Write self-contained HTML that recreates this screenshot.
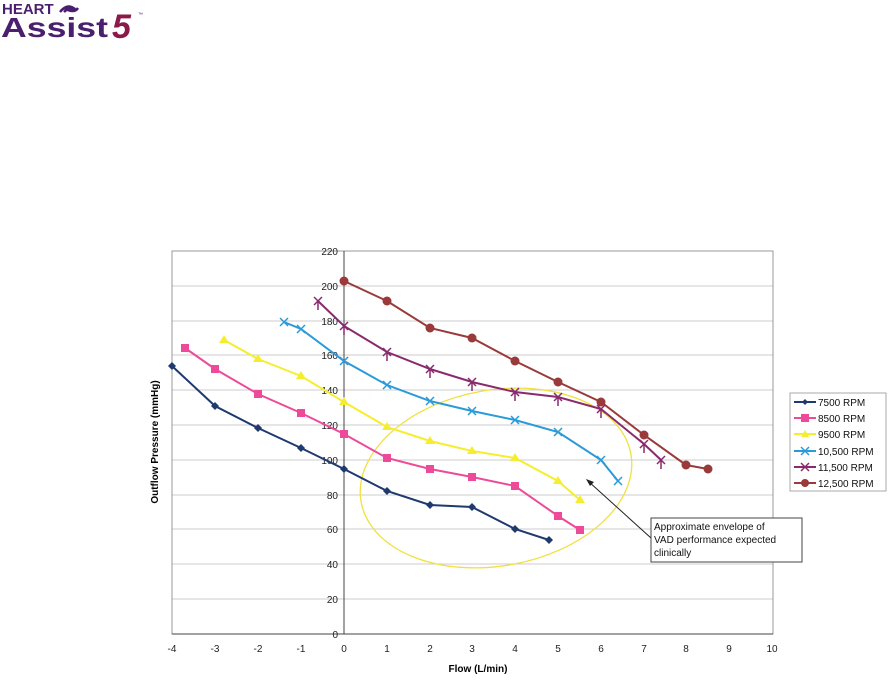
<!DOCTYPE html>
<html><head><style>body{margin:0;background:#fff}svg{font-family:"Liberation Sans",sans-serif}</style></head><body>
<svg width="889" height="686" viewBox="0 0 889 686" xmlns="http://www.w3.org/2000/svg">
<text x="2" y="14" font-size="15" font-weight="bold" fill="#4a1f6e">HEART</text>
<path d="M60 12 q8 -10 16 -2 q-6 -4 -12 2 M64 8 q10 6 14 0" stroke="#4a1f6e" stroke-width="2.5" fill="none"/>
<text x="1" y="37" font-size="28" font-weight="bold" fill="#4a1f6e" textLength="107" lengthAdjust="spacingAndGlyphs">Assist</text>
<text x="112" y="38" font-size="34" font-weight="bold" font-style="italic" fill="#8a1a4a">5</text>
<text x="138" y="16" font-size="5" fill="#4a1f6e">™</text>
<g stroke="#ccc" stroke-width="1">
<line x1="172" y1="251" x2="773" y2="251"/><line x1="172" y1="286" x2="773" y2="286"/><line x1="172" y1="321" x2="773" y2="321"/><line x1="172" y1="355" x2="773" y2="355"/><line x1="172" y1="390" x2="773" y2="390"/><line x1="172" y1="425" x2="773" y2="425"/><line x1="172" y1="460" x2="773" y2="460"/><line x1="172" y1="495" x2="773" y2="495"/><line x1="172" y1="529" x2="773" y2="529"/><line x1="172" y1="564" x2="773" y2="564"/><line x1="172" y1="599" x2="773" y2="599"/>
</g>
<rect x="172" y="251" width="601" height="383" fill="none" stroke="#999"/>
<line x1="344" y1="251" x2="344" y2="634" stroke="#444"/>
<line x1="172" y1="634" x2="773" y2="634" stroke="#444"/>
<g font-size="10" text-anchor="end" fill="#222">
<text x="338" y="255">220</text><text x="338" y="290">200</text><text x="338" y="325">180</text><text x="338" y="359">160</text><text x="338" y="394">140</text><text x="338" y="429">120</text><text x="338" y="464">100</text><text x="338" y="499">80</text><text x="338" y="533">60</text><text x="338" y="568">40</text><text x="338" y="603">20</text><text x="338" y="638">0</text>
</g>
<g font-size="10" text-anchor="middle" fill="#222">
<text x="172" y="652">-4</text><text x="215" y="652">-3</text><text x="258" y="652">-2</text><text x="301" y="652">-1</text><text x="344" y="652">0</text><text x="387" y="652">1</text><text x="430" y="652">2</text><text x="472" y="652">3</text><text x="515" y="652">4</text><text x="558" y="652">5</text><text x="601" y="652">6</text><text x="644" y="652">7</text><text x="686" y="652">8</text><text x="729" y="652">9</text><text x="772" y="652">10</text>
</g>
<text x="478" y="672" font-size="10" font-weight="bold" text-anchor="middle">Flow (L/min)</text>
<text transform="translate(158,442) rotate(-90)" font-size="10" font-weight="bold" text-anchor="middle">Outflow Pressure (mmHg)</text>
<ellipse cx="496" cy="478" rx="137" ry="88" transform="rotate(-10 496 478)" fill="none" stroke="#f0e040" stroke-width="1.3"/>
<g fill="none" stroke-width="2">
<polyline stroke="#1f3a6e" points="172,366 215,406 258,428 301,448 344,469 387,491 430,505 472,507 515,529 549,540"/>
<polyline stroke="#ee4a9a" points="185,348 215,369 258,394 301,413 344,434 387,458 430,469 472,477 515,486 558,516 580,530"/>
<polyline stroke="#f5ee30" points="224,340 258,359 301,376 344,402 387,427 430,441 472,451 515,458 558,481 580,500"/>
<polyline stroke="#2a9ad8" points="284,322 301,329 344,361 387,385 430,401 472,411 515,420 558,432 601,460 618,481"/>
<polyline stroke="#8a2a6e" points="318,301 344,326 387,352 430,369 472,382 515,392 558,397 601,409 644,444 661,460"/>
<polyline stroke="#9a3a3a" points="344,281 387,301 430,328 472,338 515,361 558,382 601,402 644,435 686,465 708,469"/>
</g>
<g fill="#1f3a6e"><path d="M172,362l4,4-4,4-4-4z M215,402l4,4-4,4-4-4z M258,424l4,4-4,4-4-4z M301,444l4,4-4,4-4-4z M344,465l4,4-4,4-4-4z M387,487l4,4-4,4-4-4z M430,501l4,4-4,4-4-4z M472,503l4,4-4,4-4-4z M515,525l4,4-4,4-4-4z M549,536l4,4-4,4-4-4z"/></g>
<g fill="#ee4a9a"><rect x="181" y="344" width="8" height="8"/><rect x="211" y="365" width="8" height="8"/><rect x="254" y="390" width="8" height="8"/><rect x="297" y="409" width="8" height="8"/><rect x="340" y="430" width="8" height="8"/><rect x="383" y="454" width="8" height="8"/><rect x="426" y="465" width="8" height="8"/><rect x="468" y="473" width="8" height="8"/><rect x="511" y="482" width="8" height="8"/><rect x="554" y="512" width="8" height="8"/><rect x="576" y="526" width="8" height="8"/></g>
<g fill="#f5ee30"><path d="M224,335l5,8h-10z M258,354l5,8h-10z M301,371l5,8h-10z M344,397l5,8h-10z M387,422l5,8h-10z M430,436l5,8h-10z M472,446l5,8h-10z M515,453l5,8h-10z M558,476l5,8h-10z M580,495l5,8h-10z"/></g>
<g stroke="#2a9ad8" stroke-width="1.5"><path d="M280,318l8,8m0-8l-8,8 M297,325l8,8m0-8l-8,8 M340,357l8,8m0-8l-8,8 M383,381l8,8m0-8l-8,8 M426,397l8,8m0-8l-8,8 M468,407l8,8m0-8l-8,8 M511,416l8,8m0-8l-8,8 M554,428l8,8m0-8l-8,8 M597,456l8,8m0-8l-8,8 M614,477l8,8m0-8l-8,8"/></g>
<g stroke="#8a2a6e" stroke-width="1.5"><path d="M314,297l8,8m0-8l-8,8m4-5v10 M340,322l8,8m0-8l-8,8m4-5v10 M383,348l8,8m0-8l-8,8m4-5v10 M426,365l8,8m0-8l-8,8m4-5v10 M468,378l8,8m0-8l-8,8m4-5v10 M511,388l8,8m0-8l-8,8m4-5v10 M554,393l8,8m0-8l-8,8m4-5v10 M597,405l8,8m0-8l-8,8m4-5v10 M640,440l8,8m0-8l-8,8m4-5v10 M657,456l8,8m0-8l-8,8m4-5v10"/></g>
<g fill="#9a3a3a"><circle cx="344" cy="281" r="4.5"/><circle cx="387" cy="301" r="4.5"/><circle cx="430" cy="328" r="4.5"/><circle cx="472" cy="338" r="4.5"/><circle cx="515" cy="361" r="4.5"/><circle cx="558" cy="382" r="4.5"/><circle cx="601" cy="402" r="4.5"/><circle cx="644" cy="435" r="4.5"/><circle cx="686" cy="465" r="4.5"/><circle cx="708" cy="469" r="4.5"/></g>
<line x1="651" y1="538" x2="588" y2="481" stroke="#222"/>
<path d="M586,479l8,3-4,4z" fill="#222"/>
<rect x="651" y="518" width="151" height="44" fill="#fff" stroke="#444"/>
<g font-size="10" fill="#111"><text x="654" y="530">Approximate envelope of</text><text x="654" y="543">VAD performance expected</text><text x="654" y="556">clinically</text></g>
<rect x="790" y="393" width="96" height="98" fill="#fff" stroke="#aaa"/>
<g font-size="10" fill="#111"><text x="818" y="406">7500 RPM</text><text x="818" y="422">8500 RPM</text><text x="818" y="438">9500 RPM</text><text x="818" y="455">10,500 RPM</text><text x="818" y="471">11,500 RPM</text><text x="818" y="487">12,500 RPM</text></g>
<g stroke-width="2"><line x1="794" y1="402" x2="816" y2="402" stroke="#1f3a6e"/><line x1="794" y1="418" x2="816" y2="418" stroke="#ee4a9a"/><line x1="794" y1="434" x2="816" y2="434" stroke="#f5ee30"/><line x1="794" y1="451" x2="816" y2="451" stroke="#2a9ad8"/><line x1="794" y1="467" x2="816" y2="467" stroke="#8a2a6e"/><line x1="794" y1="483" x2="816" y2="483" stroke="#9a3a3a"/></g>
<path d="M805,399l3,3-3,3-3-3z" fill="#1f3a6e"/><rect x="801" y="414" width="8" height="8" fill="#ee4a9a"/><path d="M805,430l4,7h-8z" fill="#f5ee30"/>
<path d="M801,447l8,8m0-8l-8,8" stroke="#2a9ad8" stroke-width="1.5"/><path d="M801,463l8,8m0-8l-8,8" stroke="#8a2a6e" stroke-width="1.5"/><circle cx="805" cy="483" r="4" fill="#9a3a3a"/>
</svg>
</body></html>
